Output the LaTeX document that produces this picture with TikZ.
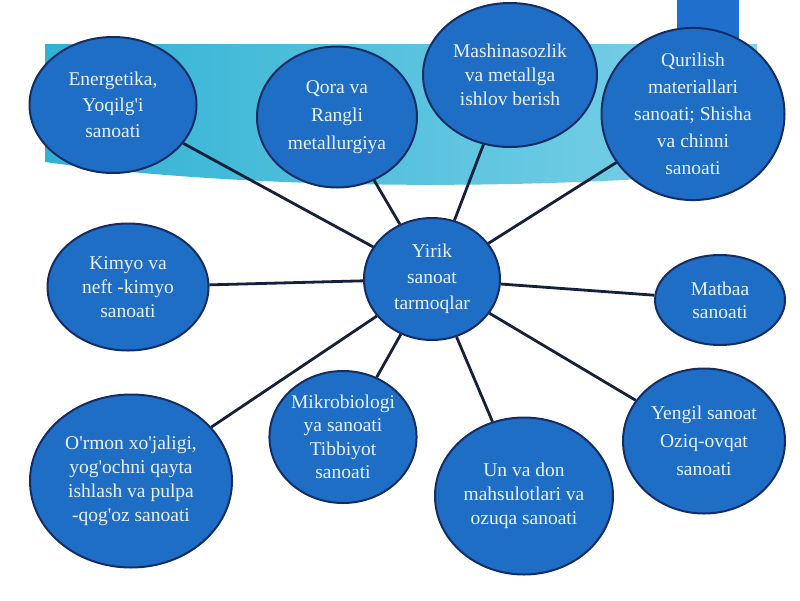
\documentclass[tikz,border=0pt]{standalone}
\usepackage{fontspec}
\setmainfont{Liberation Serif}[Ligatures=TeXOff]
\usetikzlibrary{shapes.geometric}
\definecolor{ellfill}{RGB}{30,110,198}
\definecolor{elldraw}{RGB}{22,45,100}
\definecolor{linkcol}{RGB}{22,32,58}
\definecolor{txtcol}{RGB}{232,241,255}
\definecolor{bandL}{RGB}{48,178,212}
\definecolor{bandR}{RGB}{128,210,232}
\definecolor{rectcol}{RGB}{30,112,204}
\tikzset{
  ell/.style={ellipse, draw=elldraw, line width=2pt, fill=ellfill, inner sep=0pt,
    text=txtcol, align=center, font=\fontsize{19.5}{26}\selectfont},
  link/.style={draw=linkcol, line width=2.8pt},
}
\begin{document}
\begin{tikzpicture}[x=1pt,y=-1pt]
\useasboundingbox (0,0) rectangle (800,600);
% background band
\shade[left color=bandL, right color=bandR]
  (45,44) -- (757,44) -- (757,170) .. controls (560,190) and (260,192) .. (45,162) -- cycle;
\fill[rectcol] (677,0) rectangle (739,50);
% nodes
\node[ell, minimum width=136pt, minimum height=122pt] (c) at (432,279) {Yirik\\sanoat\\tarmoqlar};
\node[ell, minimum width=167pt, minimum height=136pt] (e1) at (113,105) {Energetika,\\Yoqilg'i\\sanoati};
\node[ell, minimum width=160pt, minimum height=141pt, font=\fontsize{19.5}{28}\selectfont] (e2) at (337,117) {Qora va\\Rangli\\metallurgiya};
\node[ell, minimum width=174pt, minimum height=144pt, font=\fontsize{19.5}{24}\selectfont] (e3) at (510,75) {Mashinasozlik\\va metallga\\ishlov berish};
\node[ell, minimum width=183pt, minimum height=165pt, font=\fontsize{19.5}{27}\selectfont] (e4) at (693,114) {Qurilish\\materiallari\\sanoati; Shisha\\va chinni\\sanoati};
\node[ell, minimum width=161pt, minimum height=127pt, font=\fontsize{19.5}{24}\selectfont] (e5) at (128,287) {Kimyo va\\neft -kimyo\\sanoati};
\node[ell, minimum width=130pt, minimum height=90pt, font=\fontsize{19.5}{23}\selectfont] (e6) at (720,300) {Matbaa\\sanoati};
\node[ell, minimum width=140pt, minimum height=132pt, font=\fontsize{19.5}{23.5}\selectfont] (e7) at (343,437) {Mikrobiologi\\ya sanoati\\Tibbiyot\\sanoati};
\node[ell, minimum width=202pt, minimum height=173pt, font=\fontsize{19.5}{24}\selectfont] (e8) at (131,481) {O'rmon xo'jaligi,\\yog'ochni qayta\\ishlash va pulpa\\-qog'oz sanoati};
\node[ell, minimum width=178pt, minimum height=157pt, font=\fontsize{19.5}{24}\selectfont] (e9) at (524,496) {Un va don\\mahsulotlari va\\ozuqa sanoati};
\node[ell, minimum width=162pt, minimum height=145pt, font=\fontsize{19.5}{28}\selectfont] (e10) at (704,441) {Yengil sanoat\\Oziq-ovqat\\sanoati};
% connectors
\foreach \n in {e1,e2,e3,e4,e5,e6,e7,e8,e9,e10} \draw[link] (c) -- (\n);
\end{tikzpicture}
\end{document}
